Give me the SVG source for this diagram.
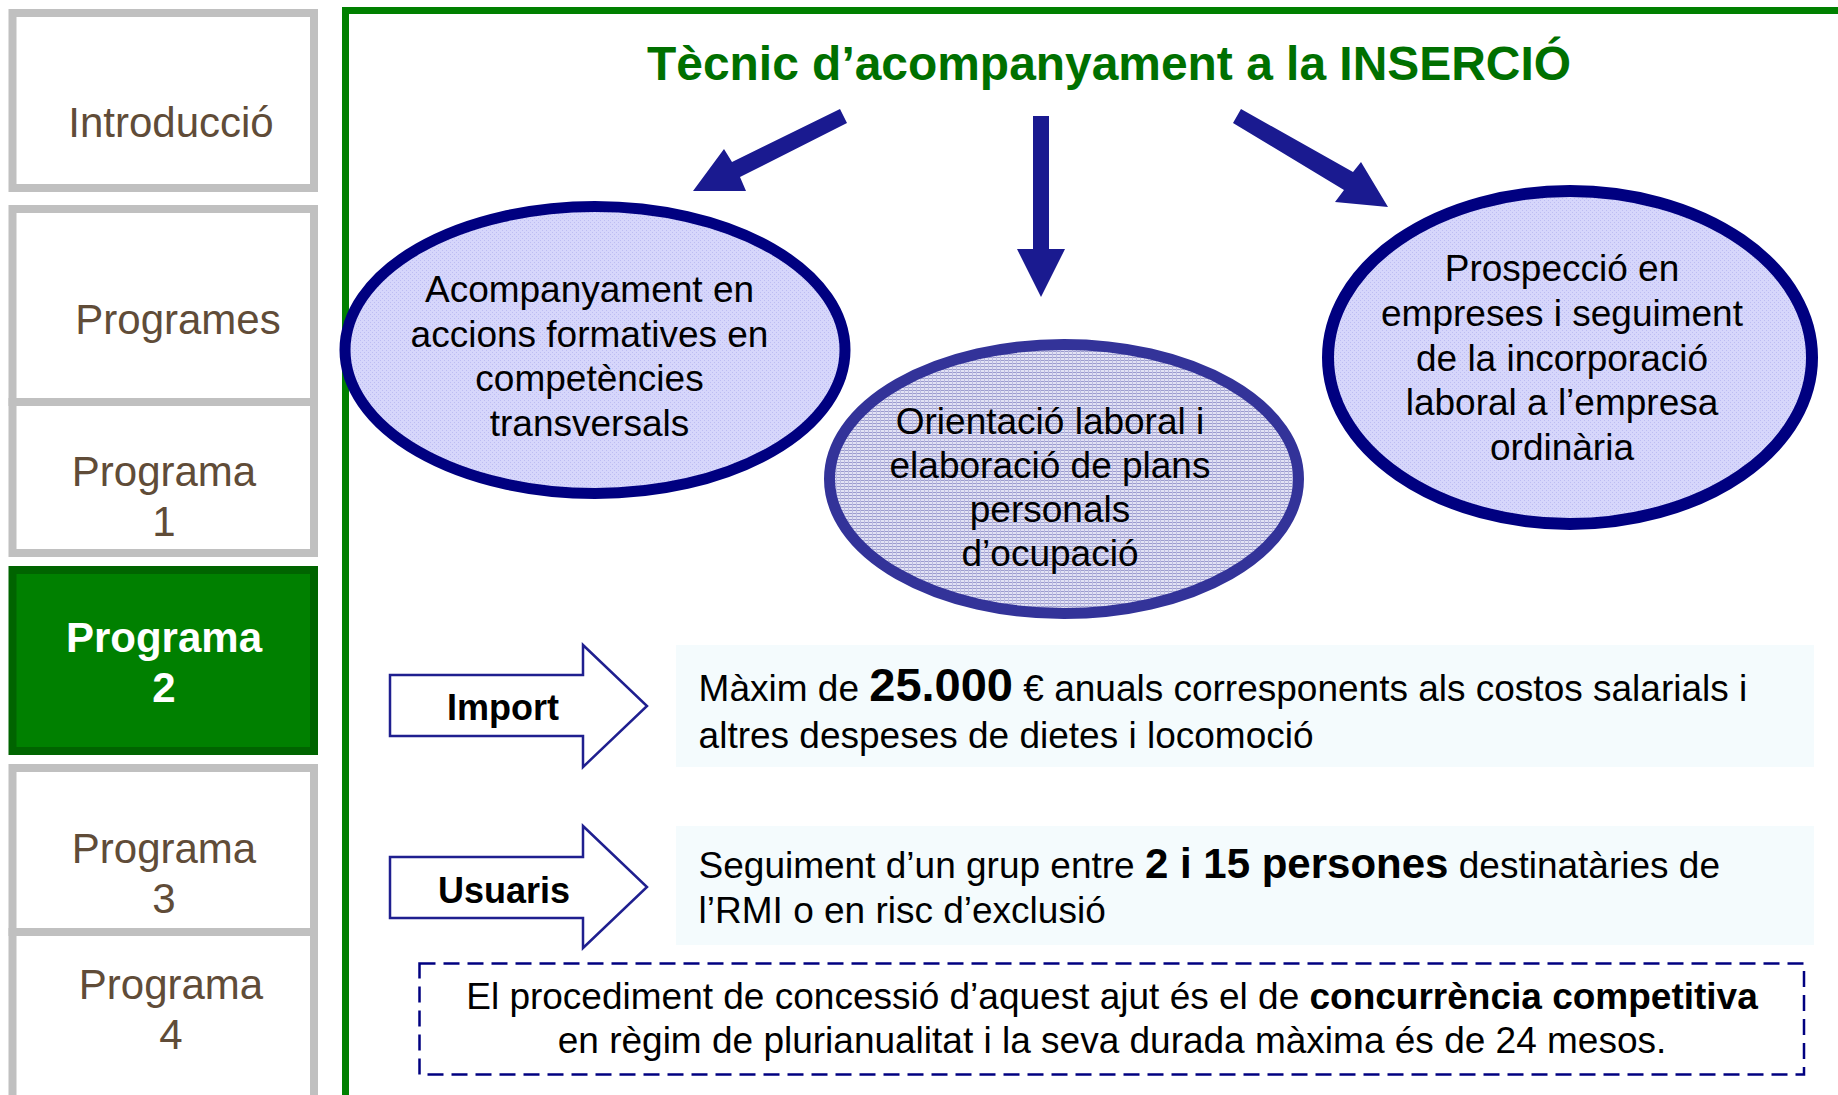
<svg xmlns="http://www.w3.org/2000/svg" width="1838" height="1095" viewBox="0 0 1838 1095">
<style>
  text { font-family: "Liberation Sans", Arial, sans-serif; }
  .nav { fill: #FFFFFF; stroke: #C0C0C0; stroke-width: 8; }
  .navtxt { font-size: 42px; fill: #604C38; text-anchor: middle; }
  .navon { fill: #008000; stroke: #006400; stroke-width: 8; }
  .navontxt { font-size: 42px; fill: #FFFFFF; font-weight: bold; text-anchor: middle; }
  .ell { font-size: 37px; fill: #000000; text-anchor: middle; }
  .body { font-size: 37px; fill: #000000; }
  .conn { fill: #1A1A90; stroke: none; }
  .blk { fill: #FFFFFF; stroke: #1F1F8F; stroke-width: 2.5; stroke-linejoin: miter; }
  .blktxt { font-size: 36px; font-weight: bold; fill: #000000; text-anchor: middle; }
  .panel { fill: #F4FBFD; }
</style>
<defs>
  <pattern id="dots" width="4" height="4" patternUnits="userSpaceOnUse">
    <rect width="4" height="4" fill="#D6D6FB"/>
    <rect x="0" y="0" width="1" height="1" fill="#BCBCF2"/>
    <rect x="2" y="2" width="1" height="1" fill="#BCBCF2"/>
  </pattern>
  <pattern id="grid" width="4" height="3" patternUnits="userSpaceOnUse">
    <rect width="4" height="3" fill="#E2E2F4"/>
    <rect x="0" y="0" width="4" height="1" fill="#9C9CCE"/>
    <rect x="0" y="0" width="1" height="3" fill="#BDBDE2"/>
  </pattern>
</defs>
<rect width="1838" height="1095" fill="#FFFFFF"/>

<!-- sidebar -->
<g id="nav-introduccio">
  <rect class="nav" x="12.5" y="13" width="301.5" height="175"/>
  <text class="navtxt" x="171" y="137">Introducció</text>
</g>
<g id="nav-programes">
  <rect class="nav" x="12.5" y="209" width="301.5" height="193"/>
  <text class="navtxt" x="178" y="334">Programes</text>
</g>
<g id="nav-programa1">
  <rect class="nav" x="12.5" y="402" width="301.5" height="151"/>
  <text class="navtxt" x="164" y="486">Programa</text>
  <text class="navtxt" x="164" y="536">1</text>
</g>
<g id="nav-programa2">
  <rect class="navon" x="12.5" y="570" width="301.5" height="181"/>
  <text class="navontxt" x="164" y="652">Programa</text>
  <text class="navontxt" x="164" y="702">2</text>
</g>
<g id="nav-programa3">
  <rect class="nav" x="12.5" y="768" width="301.5" height="164"/>
  <text class="navtxt" x="164" y="863">Programa</text>
  <text class="navtxt" x="164" y="913">3</text>
</g>
<g id="nav-programa4">
  <rect class="nav" x="12.5" y="932" width="301.5" height="200"/>
  <text class="navtxt" x="171" y="999">Programa</text>
  <text class="navtxt" x="171" y="1049">4</text>
</g>

<!-- main frame -->
<g id="frame">
  <polyline points="345.5,1100 345.5,10.5 1845,10.5" fill="none" stroke="#008000" stroke-width="7"/>
</g>

<g id="title">
  <text x="1109" y="80" font-size="48" font-weight="bold" fill="#007000" text-anchor="middle" textLength="924" lengthAdjust="spacingAndGlyphs">Tècnic d’acompanyament a la INSERCIÓ</text>
</g>

<!-- connectors -->
<g id="connectors">
  <polygon class="conn" points="840,109 847,123 740,177 746,191 693,191 724,149 732,162"/>
  <polygon class="conn" points="1033,116 1049,116 1049,249 1065,249 1041,297 1017,249 1033,249"/>
  <polygon class="conn" points="1241,109 1353,172 1361,162 1388,207 1335,202 1344,190 1233,123"/>
</g>

<g id="node-acompanyament">
  <ellipse cx="595" cy="350" rx="250" ry="143.5" fill="url(#dots)" stroke="#000080" stroke-width="11"/>
  <text class="ell" x="589.5" y="302">Acompanyament en</text>
  <text class="ell" x="589.5" y="346.5">accions formatives en</text>
  <text class="ell" x="589.5" y="391">competències</text>
  <text class="ell" x="589.5" y="435.5">transversals</text>
</g>

<g id="node-orientacio">
  <ellipse cx="1064" cy="479" rx="234.5" ry="134.5" fill="url(#grid)" stroke="#333399" stroke-width="11"/>
  <text class="ell" x="1050" y="434">Orientació laboral i</text>
  <text class="ell" x="1050" y="478">elaboració de plans</text>
  <text class="ell" x="1050" y="522">personals</text>
  <text class="ell" x="1050" y="566">d’ocupació</text>
</g>

<g id="node-prospeccio">
  <ellipse cx="1570" cy="357.5" rx="242" ry="166.5" fill="url(#dots)" stroke="#000080" stroke-width="12"/>
  <text class="ell" x="1562" y="281">Prospecció en</text>
  <text class="ell" x="1562" y="326">empreses i seguiment</text>
  <text class="ell" x="1562" y="370.5">de la incorporació</text>
  <text class="ell" x="1562" y="415">laboral a l’empresa</text>
  <text class="ell" x="1562" y="459.5">ordinària</text>
</g>

<g id="node-import">
  <path class="blk" d="M390,675 L583,675 L583,645 L647,706 L583,767 L583,736 L390,736 Z"/>
  <text class="blktxt" x="503" y="720">Import</text>
</g>
<g id="node-import-text">
  <rect class="panel" x="676" y="645" width="1138" height="122"/>
  <text class="body" x="698.6" y="701">Màxim de <tspan font-size="47" font-weight="bold">25.000</tspan> € anuals corresponents als costos salarials i</text>
  <text class="body" x="698.6" y="748">altres despeses de dietes i locomoció</text>
</g>

<g id="node-usuaris">
  <path class="blk" d="M390,857 L583,857 L583,826 L647,887 L583,948 L583,918 L390,918 Z"/>
  <text class="blktxt" x="504" y="903">Usuaris</text>
</g>
<g id="node-usuaris-text">
  <rect class="panel" x="676" y="826" width="1138" height="119"/>
  <text class="body" x="698.6" y="878">Seguiment d’un grup entre <tspan font-size="42" font-weight="bold">2 i 15 persones</tspan> destinatàries de</text>
  <text class="body" x="698.6" y="923">l’RMI o en risc d’exclusió</text>
</g>

<g id="node-procediment">
  <rect x="419.5" y="963.5" width="1384.5" height="111" fill="#FFFFFF" stroke="#000080" stroke-width="2.5" stroke-dasharray="16 8"/>
  <text class="body" x="1112" y="1009" text-anchor="middle">El procediment de concessió d’aquest ajut és el de <tspan font-weight="bold">concurrència competitiva</tspan></text>
  <text class="body" x="1112" y="1053" text-anchor="middle">en règim de plurianualitat i la seva durada màxima és de 24 mesos.</text>
</g>
</svg>
